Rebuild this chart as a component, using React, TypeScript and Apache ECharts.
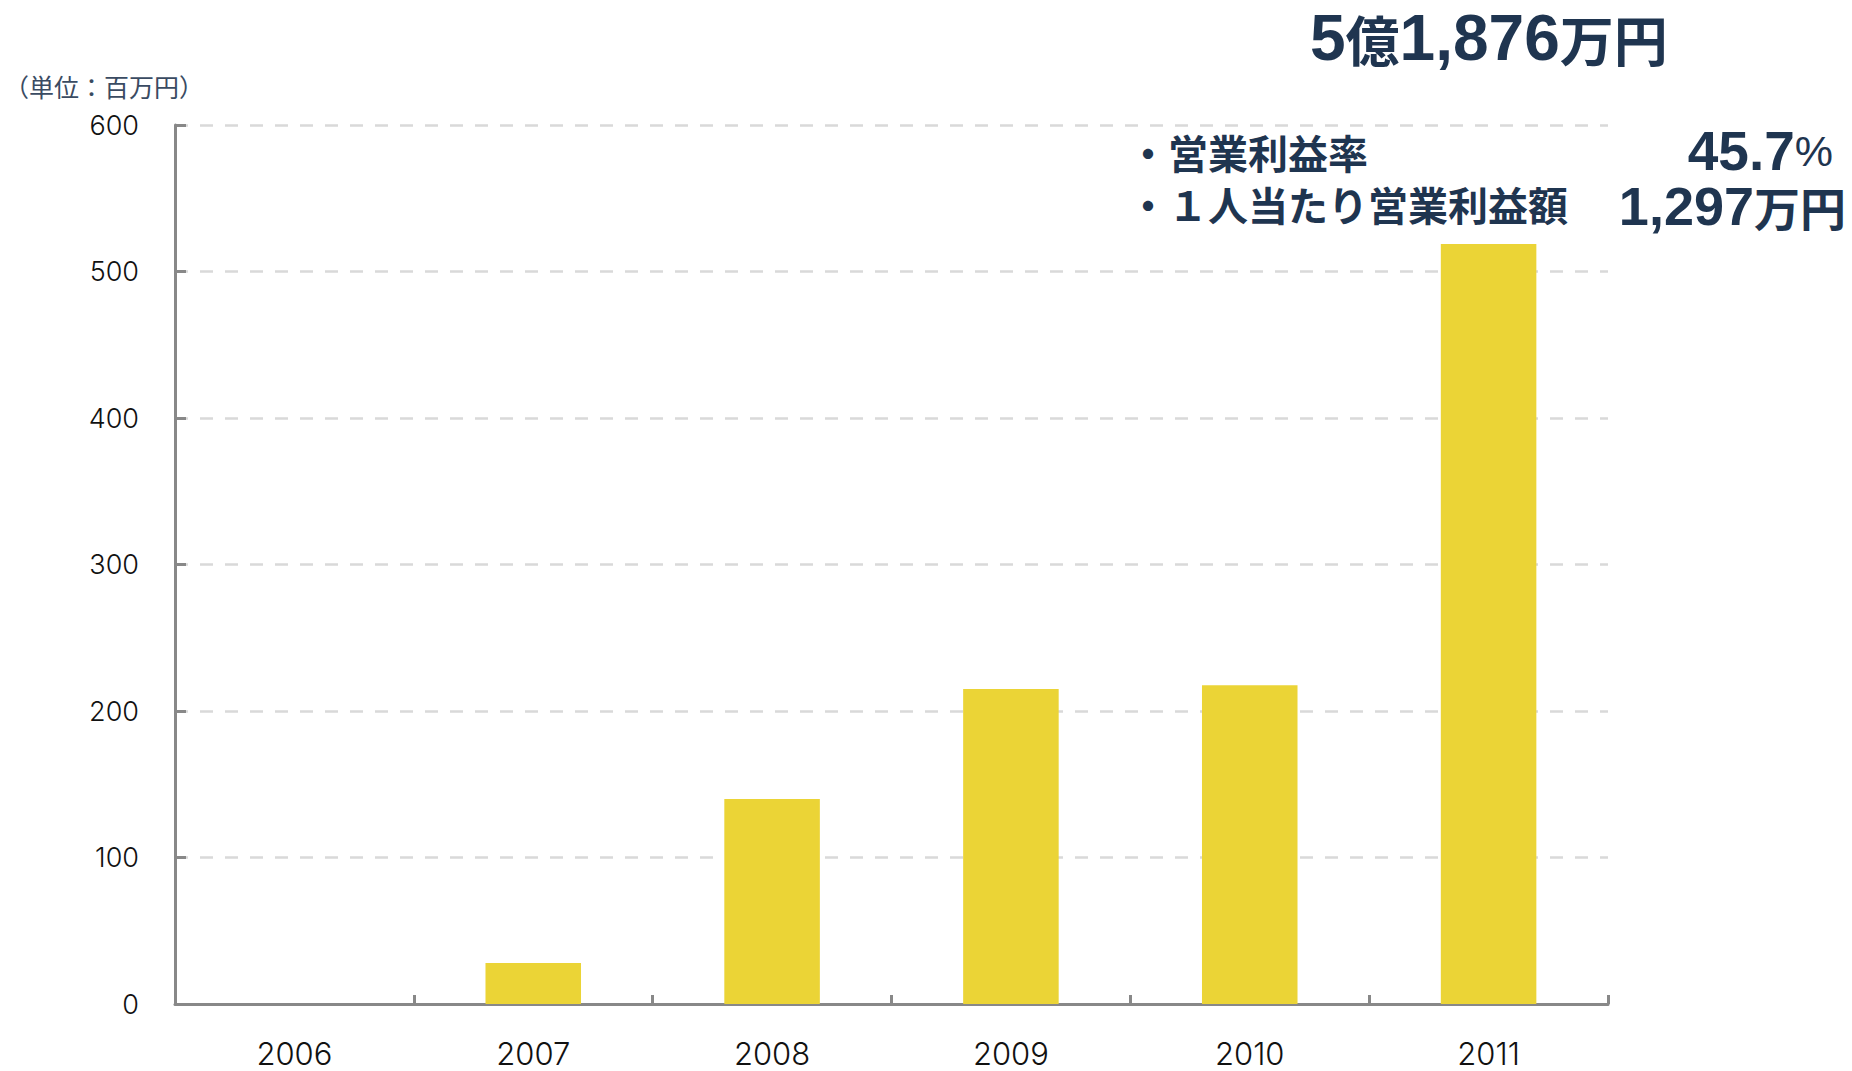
import React, { useEffect, useRef } from "react";
import * as echarts from "echarts";

const categories = ["2006", "2007", "2008", "2009", "2010", "2011"];
const values = [0, 28, 140, 215, 217.5, 518.76];
const yTicks = { min: 0, max: 600, interval: 100 };
const unitLabel = "（単位：百万円）";
const headlineNum = ["5", "億", "1,876", "万円"];
const bulletLabels = ["・営業利益率", "・１人当たり営業利益額"];
const rateValue = "45.7";
const perHeadValue = "1,297";

const NAVY = "#1f3550";
const CJK = "'Noto Sans CJK JP', sans-serif";
const AXF = "Inter, 'DejaVu Sans', sans-serif";

export default function App() {
  const ref = useRef<HTMLDivElement>(null);
  useEffect(() => {
    if (!ref.current) return;
    const chart = echarts.init(ref.current, undefined, { renderer: "svg" });
    chart.setOption({
      animation: false,
      backgroundColor: "#ffffff",
      grid: { left: 175, right: 244, top: 125, bottom: 67, containLabel: false },
      xAxis: {
        type: "category",
        data: categories,
        boundaryGap: true,
        axisLine: { show: true, lineStyle: { color: "#888888", width: 3 } },
        axisTick: { show: true, inside: true, length: 9, lineStyle: { color: "#888888", width: 3 } },
        axisLabel: { color: "#111111", fontSize: 31, fontWeight: 300, margin: 35, lineHeight: 28, fontFamily: AXF },
        splitLine: { show: false },
      },
      yAxis: {
        type: "value",
        min: yTicks.min,
        max: yTicks.max,
        interval: yTicks.interval,
        axisLine: { show: true, lineStyle: { color: "#888888", width: 3 } },
        axisTick: { show: true, inside: true, length: 11, lineStyle: { color: "#888888", width: 3 } },
        axisLabel: { color: "#111111", fontSize: 27, fontWeight: 300, margin: 36, fontFamily: AXF },
        splitLine: { show: true, lineStyle: { color: "#d9d9d9", width: 2.5, type: [13, 12] } },
      },
      series: [
        {
          type: "bar",
          data: values,
          barWidth: "40%",
          itemStyle: { color: "#ebd436" },
        },
      ],
      graphic: [
        {
          type: "text",
          x: 4,
          y: 86,
          style: { text: unitLabel, fill: "#3a4b62", font: `25px ${CJK}`, textAlign: "left", textVerticalAlign: "middle" },
        },
        {
          type: "text",
          x: 1310,
          y: 38,
          style: {
            text: `{d|${headlineNum[0]}}{c|${headlineNum[1]}}{d|${headlineNum[2]}}{c|${headlineNum[3]}}`,
            textAlign: "left",
            textVerticalAlign: "middle",
            rich: {
              d: { fill: NAVY, fontFamily: "Liberation Sans", fontWeight: "bold", fontSize: 64 },
              c: { fill: NAVY, fontFamily: "Noto Sans CJK JP", fontWeight: "bold", fontSize: 54 },
            },
          } as any,
        },
        {
          type: "text",
          x: 1128,
          y: 152,
          style: { text: bulletLabels[0], fill: NAVY, font: `bold 40px ${CJK}`, lineHeight: 40, textAlign: "left", textVerticalAlign: "middle" } as any,
        },
        {
          type: "text",
          x: 1128,
          y: 204,
          style: { text: bulletLabels[1], fill: NAVY, font: `bold 40px ${CJK}`, lineHeight: 40, textAlign: "left", textVerticalAlign: "middle" } as any,
        },
        {
          type: "text",
          x: 1833,
          y: 151,
          style: {
            text: `{n|${rateValue}}{p|%}`,
            textAlign: "right",
            textVerticalAlign: "middle",
            rich: {
              n: { fill: NAVY, fontFamily: "Liberation Sans", fontWeight: "bold", fontSize: 55, lineHeight: 46 },
              p: { fill: NAVY, fontFamily: "Liberation Sans", fontWeight: "normal", fontSize: 43, lineHeight: 46 },
            },
          } as any,
        },
        {
          type: "text",
          x: 1846,
          y: 206,
          style: {
            text: `{n|${perHeadValue}}{c|万円}`,
            textAlign: "right",
            textVerticalAlign: "middle",
            rich: {
              n: { fill: NAVY, fontFamily: "Liberation Sans", fontWeight: "bold", fontSize: 54, lineHeight: 46 },
              c: { fill: NAVY, fontFamily: "Noto Sans CJK JP", fontWeight: "bold", fontSize: 46, lineHeight: 46 },
            },
          } as any,
        },
      ],
    });
    return () => chart.dispose();
  }, []);
  return <div ref={ref} style={{ position: "absolute", left: 0, top: 0, width: 1852, height: 1071 }} />;
}
